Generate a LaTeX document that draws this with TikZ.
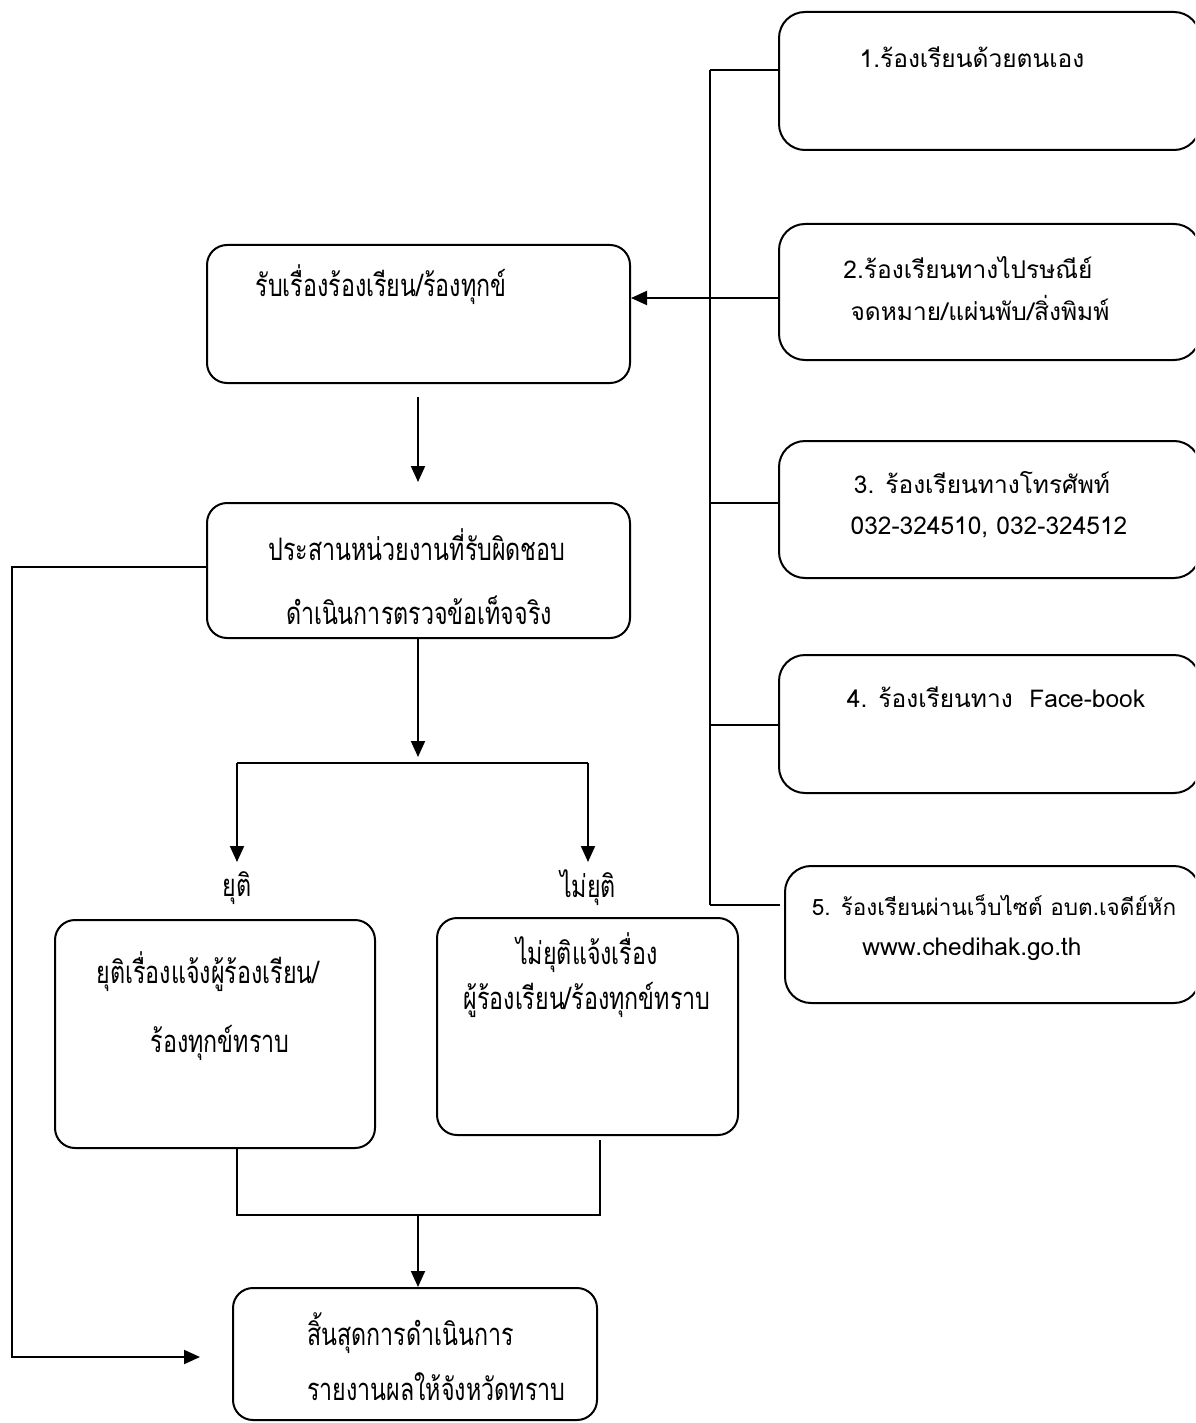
\documentclass[tikz,border=0pt]{standalone}
\usepackage{fontspec}
\newfontfamily\thaiR[Script=Thai]{Loma}
\newfontfamily\thaiN[Script=Thai,FakeStretch=0.75]{Loma}
\usetikzlibrary{arrows.meta}
\begin{document}
\begin{tikzpicture}[x=1pt,y=-1pt,
  ln/.style={line width=2pt},
  arr/.style={ln,-{Triangle[length=16pt,width=14pt]}},
  box/.style={draw,line width=2pt,rounded corners=20pt,inner sep=0pt},
  rbox/.style={box,rounded corners=26pt,minimum width=421pt},
  lt/.style={font=\thaiN\fontsize{31}{36}\selectfont,inner sep=0pt},
  rt/.style={font=\thaiR\fontsize{24.5}{30}\selectfont,inner sep=0pt}]
\useasboundingbox (0,0) rectangle (1195,1423);
\clip (0,0) rectangle (1195,1423);
% left column boxes
\node[box,minimum width=423pt,minimum height=138pt] (A) at (418.5,314) {};
\node[box,minimum width=423pt,minimum height=135pt] (B) at (418.5,570.5) {};
\node[box,minimum width=320pt,minimum height=228pt] (D) at (215,1034) {};
\node[box,minimum width=301pt,minimum height=217pt] (E) at (587.5,1026.5) {};
\node[box,minimum width=364pt,minimum height=132pt] (F) at (415,1354) {};
% right column boxes
\node[rbox,minimum height=138pt] (R1) at (989.5,81) {};
\node[rbox,minimum height=136pt] (R2) at (989.5,292) {};
\node[rbox,minimum height=137pt] (R3) at (989.5,509.5) {};
\node[rbox,minimum height=138pt] (R4) at (989.5,724) {};
\node[rbox,minimum width=415pt,minimum height=137pt] (R5) at (992.5,934.5) {};
% texts
\node[lt] (tA) at (381,285) {รับเรื่องร้องเรียน/ร้องทุกข์};
\node[lt] (tB1) at (417,545) {ประสานหน่วยงานที่รับผิดชอบ};
\node[lt] (tB2) at (419,610) {ดำเนินการตรวจข้อเท็จจริง};
\node[lt] (lD) at (237,888) {ยุติ};
\node[lt] (lE) at (588,888) {ไม่ยุติ};
\node[lt] (tD1) at (208,972) {ยุติเรื่องแจ้งผู้ร้องเรียน/};
\node[lt] (tD2) at (220,1043) {ร้องทุกข์ทราบ};
\node[lt] (tE1) at (587,953) {ไม่ยุติแจ้งเรื่อง};
\node[lt] (tE2) at (587,1000) {ผู้ร้องเรียน/ร้องทุกข์ทราบ};
\node[lt,anchor=west] (tF1) at (307,1333) {สิ้นสุดการดำเนินการ};
\node[lt,anchor=west] (tF2) at (307,1387) {รายงานผลให้จังหวัดทราบ};
\node[rt] (t1) at (972,57) {1.ร้องเรียนด้วยตนเอง};
\node[rt] (t2a) at (968,268) {2.ร้องเรียนทางไปรษณีย์};
\node[rt] (t2b) at (980,308) {จดหมาย/แผ่นพับ/สิ่งพิมพ์};
\node[rt] (t3a) at (982,483) {3. ร้องเรียนทางโทรศัพท์};
\node[rt] (t3b) at (989,527) {032-324510, 032-324512};
\node[rt] (t4) at (996,697) {4. ร้องเรียนทาง\ \ Face-book};
\node[rt,font=\thaiR\fontsize{22.5}{28}\selectfont] (t5a) at (994,905) {5. ร้องเรียนผ่านเว็บไซต์ อบต.เจดีย์หัก};
\node[rt] (t5b) at (972,949) {www.chedihak.go.th};
% connector coordinates
\coordinate (s1) at (710,70);
\coordinate (s2) at (710,298);
\coordinate (s3) at (710,503);
\coordinate (s4) at (710,725);
\coordinate (s5) at (710,905);
\coordinate (a1) at (418,397);
\coordinate (a2) at (418,482);
\coordinate (b2) at (418,757);
\coordinate (spL) at (237,763);
\coordinate (spR) at (588,763);
\coordinate (dL) at (237,862);
\coordinate (dR) at (588,862);
\coordinate (mL) at (237,1215);
\coordinate (mR) at (600,1215);
\coordinate (m) at (418,1215);
\coordinate (eR) at (600,1140);
\coordinate (rt1) at (12,567);
\coordinate (rt2) at (12,1357);
\coordinate (rt3) at (200,1357);
% right spine
\draw[ln] (s1) -- (s5);
\draw[ln] (s1) -- (s1 -| R1.west);
\draw[ln] (s3) -- (s3 -| R3.west);
\draw[ln] (s4) -- (s4 -| R4.west);
\draw[ln] (s5) -- (780,905);
\draw[arr] (s2 -| R2.west) -- (s2 -| A.east);
% main flow
\draw[arr] (a1) -- (a2);
\draw[arr] (B.south -| b2) -- (b2);
\draw[ln] (spL) -- (spR);
\draw[arr] (spL) -- (dL);
\draw[arr] (spR) -- (dR);
\draw[ln] (mL |- D.south) -- (mL) -- (mR) -- (eR);
\draw[arr] (m) -- (m |- F.north);
\draw[arr] (rt1 -| B.west) -- (rt1) -- (rt2) -- (rt3);
\end{tikzpicture}
\end{document}
